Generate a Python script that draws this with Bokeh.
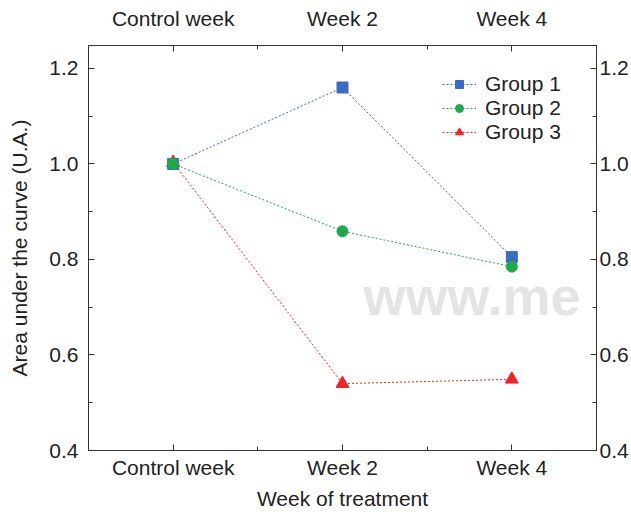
from bokeh.plotting import figure
from bokeh.models import FixedTicker, LinearAxis, Range1d, Legend, LegendItem, Label, PrintfTickFormatter
from bokeh.embed import file_html
from bokeh.resources import INLINE

weeks = ["Control week", "Week 2", "Week 4"]
group1 = [1.0, 1.16, 0.805]
group2 = [1.0, 0.859, 0.785]
group3 = [1.003, 0.54, 0.549]
y_ticks = [0.4, 0.6, 0.8, 1.0, 1.2]
y_minor = [0.5, 0.7, 0.9, 1.1]

FONT = "Liberation Sans"
FS = "21px"
xs = list(range(len(weeks)))

p = figure(width=631, height=512, output_backend="svg", toolbar_location=None,
           x_range=Range1d(-0.5, 2.5), y_range=Range1d(0.4, 1.248),
           min_border_left=88, min_border_right=35, min_border_top=45, min_border_bottom=61)
p.background_fill_color = "white"
p.border_fill_color = "white"
p.grid.visible = False
p.outline_line_color = "#333333"
p.outline_line_width = 1

xticker = FixedTicker(ticks=xs, minor_ticks=[0.5, 1.5])
yticker = FixedTicker(ticks=y_ticks, minor_ticks=y_minor)
overrides = {i: w for i, w in enumerate(weeks)}
yfmt = PrintfTickFormatter(format="%.1f")

def style_axis(ax):
    ax.axis_line_color = "#333333"
    ax.major_tick_in = 6
    ax.major_tick_out = 0
    ax.minor_tick_in = 4
    ax.minor_tick_out = 0
    ax.major_tick_line_color = "#333333"
    ax.minor_tick_line_color = "#333333"
    ax.major_label_text_font = FONT
    ax.major_label_text_font_size = FS
    ax.major_label_text_color = "#222222"
    ax.axis_label_text_font = FONT
    ax.axis_label_text_font_size = FS
    ax.axis_label_text_font_style = "normal"
    ax.axis_label_text_color = "#222222"

xa = p.xaxis[0]
xa.ticker = xticker
xa.major_label_overrides = overrides
xa.axis_label = "Week of treatment"
style_axis(xa)
xa.major_label_standoff = 5
xa.axis_label_standoff = 5

ya = p.yaxis[0]
ya.ticker = yticker
ya.formatter = yfmt
ya.axis_label = "Area under the curve (U.A.)"
style_axis(ya)
ya.major_label_standoff = 10
ya.axis_label_standoff = 15
ya.axis_label_text_line_height = 0.8

top = LinearAxis(ticker=xticker, major_label_overrides=overrides)
style_axis(top)
top.major_label_standoff = 16
p.add_layout(top, "above")

right = LinearAxis(ticker=yticker, formatter=yfmt)
style_axis(right)
right.major_label_standoff = 3
p.add_layout(right, "right")

wm = Label(x=1.124, y=0.723, text="www.me", text_font=FONT, text_font_size="54px",
           text_font_style="bold", text_color="#e4e4e6", text_baseline="alphabetic",
           level="underlay")
p.add_layout(wm)

names = ["Group 1", "Group 2", "Group 3"]
series = [group1, group2, group3]
colors = ["#3a6cc0", "#1ea84a", "#ee2228"]
markers = ["square", "circle", "triangle"]
sizes = [11, 11, 13]
lines = []
for vals, c in zip(series, colors):
    lines.append(p.line(xs, vals, line_color=c, line_dash="2 2", line_width=1))
scatters = [None, None, None]
for i in [2, 0, 1]:
    scatters[i] = p.scatter(xs, series[i], marker=markers[i], size=sizes[i],
                            fill_color=colors[i], line_color=colors[i])
items = [LegendItem(label=names[i], renderers=[lines[i], scatters[i]]) for i in range(3)]

legend = Legend(items=items, location=(354, 306), padding=0, spacing=0,
                label_height=20, glyph_height=20, glyph_width=34, label_standoff=9,
                label_text_font=FONT, label_text_font_size=FS, label_text_color="#222222",
                border_line_color=None, background_fill_alpha=0)
p.add_layout(legend, "center")

open("out.html", "w").write(file_html(p, INLINE))
